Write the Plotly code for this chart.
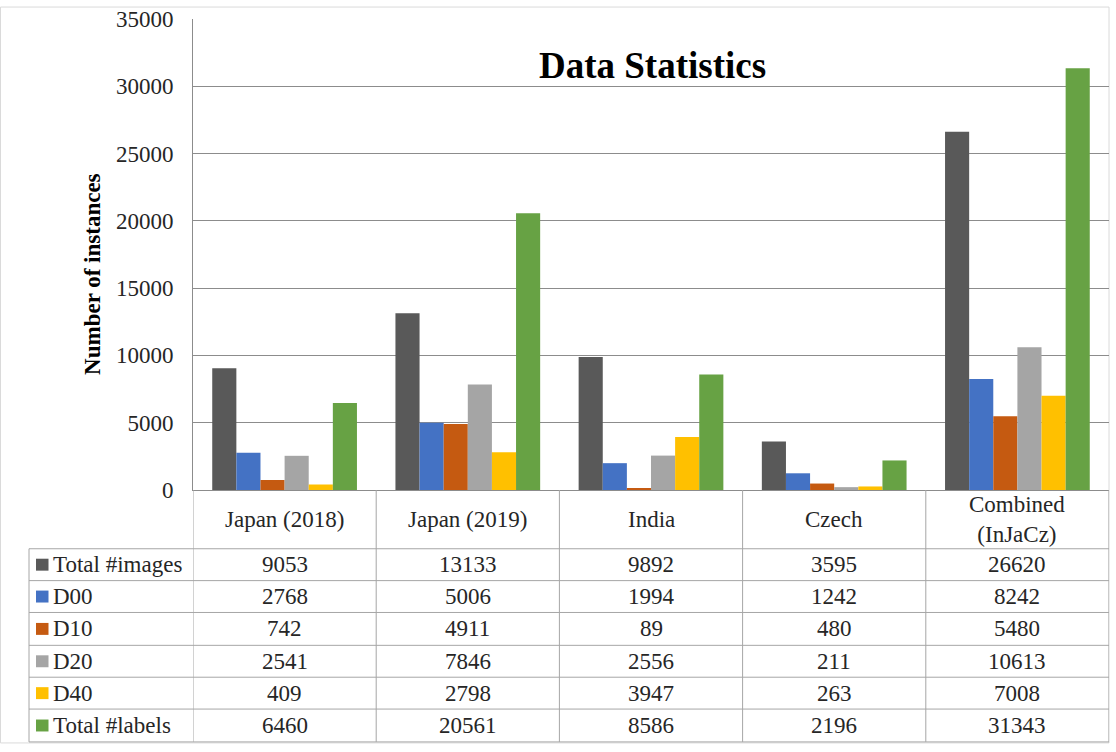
import plotly.graph_objects as go

categories = ["Japan (2018)", "Japan (2019)", "India", "Czech", "Combined (InJaCz)"]
category_labels = ["Japan (2018)", "Japan (2019)", "India", "Czech", "Combined<br>(InJaCz)"]
series_names = ["Total #images", "D00", "D10", "D20", "D40", "Total #labels"]
total_images = [9053, 13133, 9892, 3595, 26620]
d00 = [2768, 5006, 1994, 1242, 8242]
d10 = [742, 4911, 89, 480, 5480]
d20 = [2541, 7846, 2556, 211, 10613]
d40 = [409, 2798, 3947, 263, 7008]
total_labels = [6460, 20561, 8586, 2196, 31343]
series_values = [total_images, d00, d10, d20, d40, total_labels]
colors = ["#595959", "#4472C4", "#C55A11", "#A5A5A5", "#FFC000", "#67A244"]
y_ticks = [0, 5000, 10000, 15000, 20000, 25000, 30000, 35000]
y_tick_labels = [str(v) for v in y_ticks]

W, H = 1116, 752
ML, MR, MT, MB = 193, 7, 17, 262
PW = W - ML - MR
PH = H - MT - MB
FONT = "Liberation Serif"
TXT = "#262626"

def py(p):  # pixel y -> paper y
    return (H - MB - p) / PH

def px(p):  # pixel x -> paper x
    return (p - ML) / PW

fig = go.Figure()
for name, vals, c in zip(series_names, series_values, colors):
    fig.add_trace(go.Bar(name=name, x=categories, y=vals, marker=dict(color=c, line=dict(width=0))))

grid_c = "#8C8C8C"
tab_c = "#A6A6A6"
shapes = []
shapes.append(dict(type="rect", xref="paper", yref="paper", x0=px(0.5), x1=px(1109), y0=py(5), y1=py(744),
                   line=dict(color="#DADADA", width=1), layer="below"))
row_lines = [549, 581, 613, 646, 678, 710, 743]
for r in row_lines:
    shapes.append(dict(type="line", xref="paper", yref="paper", x0=px(29), x1=1, y0=py(r), y1=py(r),
                       line=dict(color=tab_c, width=1)))
for i in range(len(categories) + 1):
    shapes.append(dict(type="line", xref="x", yref="paper", x0=i - 0.5, x1=i - 0.5, y0=0, y1=py(743),
                       line=dict(color=tab_c, width=1)))
shapes.append(dict(type="line", xref="paper", yref="paper", x0=px(29), x1=px(29), y0=py(549), y1=py(743),
                   line=dict(color=tab_c, width=1)))

annotations = []
annotations.append(dict(text="<b>Data Statistics</b>", xref="paper", yref="paper", x=px(652), y=py(64),
                        showarrow=False, font=dict(family=FONT, size=37, color="black"),
                        xanchor="center", yanchor="middle"))
annotations.append(dict(text="<b>Number of instances</b>", xref="paper", yref="paper", x=px(93), y=py(273),
                        showarrow=False, textangle=-90, font=dict(family=FONT, size=23, color="black"),
                        xanchor="center", yanchor="middle"))
for cat, lab in zip(categories, category_labels):
    annotations.append(dict(text=lab, xref="x", yref="paper", x=cat, y=py(520), showarrow=False,
                            font=dict(family=FONT, size=23, color=TXT), xanchor="center", yanchor="middle"))

row_centers = [(row_lines[k] + row_lines[k + 1]) / 2 for k in range(len(series_names))]
for k, (name, vals, c) in enumerate(zip(series_names, series_values, colors)):
    yc = row_centers[k]
    shapes.append(dict(type="rect", xref="paper", yref="paper", x0=px(36), x1=px(48.5), y0=py(yc + 6), y1=py(yc - 6),
                       line=dict(width=0), fillcolor=c))
    annotations.append(dict(text=name, xref="paper", yref="paper", x=px(51), y=py(yc), showarrow=False,
                            font=dict(family=FONT, size=23, color=TXT), xanchor="left", yanchor="middle"))
    for cat, v in zip(categories, vals):
        annotations.append(dict(text=str(v), xref="x", yref="paper", x=cat, y=py(yc), showarrow=False,
                                font=dict(family=FONT, size=23, color=TXT), xanchor="center", yanchor="middle"))

fig.update_layout(
    width=W, height=H,
    margin=dict(l=ML, r=MR, t=MT, b=MB),
    paper_bgcolor="white", plot_bgcolor="white",
    barmode="group", bargap=0.21, bargroupgap=0,
    showlegend=False,
    shapes=shapes, annotations=annotations,
    font=dict(family=FONT, color=TXT),
    xaxis=dict(type="category", showticklabels=False, showgrid=False, showline=True, linecolor=grid_c,
               linewidth=1, ticks="", range=[-0.5, 4.5]),
    yaxis=dict(range=[0, 35000], tickvals=y_ticks, ticktext=y_tick_labels, showgrid=True, gridcolor=grid_c,
               gridwidth=1, showline=True, linecolor=grid_c, linewidth=1, zeroline=False, ticks="",
               ticklabelstandoff=14, tickfont=dict(family=FONT, size=23, color=TXT)),
)

fig.write_html("out.html", config={"displayModeBar": False},
               post_script="document.body.style.margin='0';document.body.style.padding='0';")
